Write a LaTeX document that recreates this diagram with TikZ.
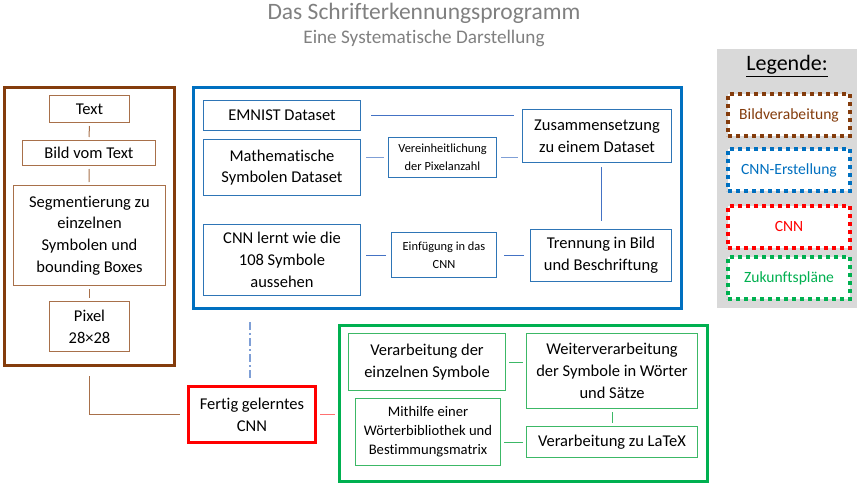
\documentclass[tikz,border=0pt]{standalone}
\usepackage{fontspec}
\setmainfont{Carlito}[Ligatures=NoCommon]
\usetikzlibrary{positioning}
\definecolor{braun}{HTML}{843C0C}
\definecolor{hellbraun}{HTML}{A8704A}
\definecolor{blau}{HTML}{0070C0}
\definecolor{hellblau}{HTML}{2E75B6}
\definecolor{linienblau}{HTML}{4472C4}
\definecolor{blassblau}{HTML}{7F9FD6}
\definecolor{rot}{HTML}{FF0000}
\definecolor{hellrot}{HTML}{FF7070}
\definecolor{gruen}{HTML}{00B050}
\definecolor{hellgruen}{HTML}{3CB866}
\definecolor{legendgrau}{HTML}{D9D9D9}
\definecolor{titelgrau}{HTML}{808080}
\tikzset{frame node/.style={draw, line width=3.2pt, inner sep=0pt},
  box node/.style={draw, line width=1pt, align=center, inner sep=0pt, font=\fontsize{16.5}{21.7}\selectfont},
  small node/.style={box node, font=\fontsize{12.4}{17.7}\selectfont},
  legend node/.style={draw, fill=white, line width=4pt, dash pattern=on 4pt off 4pt, minimum width=122pt, minimum height=42pt, font=\fontsize{15.6}{18}\selectfont},}

\begin{document}
\begin{tikzpicture}[x=1pt,y=-1pt]
    \useasboundingbox (0,0) rectangle (864,487);
    \node[text=titelgrau, font=\fontsize{23.5}{27}\selectfont] (titel) at (424,13) {Das Schrifterkennungsprogramm};
    \node[text=titelgrau, font=\fontsize{19.2}{22}\selectfont] (untertitel) at (424,38) {Eine Systematische Darstellung};

    % Bildverarbeitung
    \node[frame node, draw=braun, minimum width=170pt, minimum height=278pt] (a) at (89.5,226.5) {};
    \node[box node, draw=hellbraun, minimum width=80pt, minimum height=27pt] (1) at (89.5,109) {Text};
    \node[box node, draw=hellbraun, minimum width=133pt, minimum height=25pt] (2) at (89,153) {Bild vom Text};
    \node[box node, draw=hellbraun, minimum width=152pt, minimum height=100pt] (3) at (89.5,235.5) {Segmentierung zu\\einzelnen\\Symbolen und\\bounding Boxes};
    \node[box node, draw=hellbraun, minimum width=80pt, minimum height=50pt] (4) at (89.5,326.5) {Pixel\\28×28};

    % CNN-Erstellung
    \node[frame node, draw=blau, minimum width=488pt, minimum height=221pt] (b) at (437.5,198) {};
    \node[box node, draw=hellblau, minimum width=157pt, minimum height=30pt] (5) at (282,115.5) {EMNIST Dataset};
    \node[box node, draw=hellblau, minimum width=157pt, minimum height=56pt] (6) at (282,167.5) {Mathematische\\Symbolen Dataset};
    \node[box node, draw=hellblau, minimum width=157pt, minimum height=71pt] (7) at (282,260) {CNN lernt wie die\\108 Symbole\\aussehen};
    \node[small node, draw=hellblau, minimum width=108pt, minimum height=40pt] (8) at (442.5,157.5) {Vereinheitlichung\\der Pixelanzahl};
    \node[small node, draw=hellblau, minimum width=105pt, minimum height=45pt] (9) at (444,255) {Einfügung in das\\CNN};
    \node[box node, draw=hellblau, minimum width=149pt, minimum height=53pt] (10) at (597,136) {Zusammensetzung\\zu einem Dataset};
    \node[box node, draw=hellblau, minimum width=141pt, minimum height=52pt] (11) at (601,255.5) {Trennung in Bild\\und Beschriftung};

    % CNN
    \node[frame node, draw=rot, minimum width=127pt, minimum height=56pt, align=center, font=\fontsize{16.5}{21.7}\selectfont] (12) at (252,414.5) {Fertig gelerntes\\CNN};

    % Zukunftsplaene
    \node[frame node, draw=gruen, minimum width=368pt, minimum height=156pt] (c) at (523.5,403.5) {};
    \node[box node, draw=hellgruen, minimum width=157pt, minimum height=57pt] (13) at (427,362) {Verarbeitung der\\einzelnen Symbole};
    \node[box node, draw=hellgruen, minimum width=171pt, minimum height=75pt] (14) at (612,371) {Weiterverarbeitung\\der Symbole in Wörter\\und Sätze};
    \node[box node, draw=hellgruen, minimum width=145pt, minimum height=67pt, font=\fontsize{14.6}{19}\selectfont] (15) at (428,432) {Mithilfe einer\\Wörterbibliothek und\\Bestimmungsmatrix};
    \node[box node, draw=hellgruen, minimum width=171pt, minimum height=31pt] (16) at (612,442) {Verarbeitung zu LaTeX};

    % Legende
    \node[fill=legendgrau, minimum width=140pt, minimum height=259pt, inner sep=0pt] (leg) at (787,178.5) {};
    \node[font=\fontsize{22}{26}\selectfont] (legtitel) at (787,66) {\underline{Legende:}};
    \node[legend node, draw=braun, text=braun] (l1) at (789,115) {Bildverabeitung};
    \node[legend node, draw=blau, text=blau] (l2) at (789,170) {CNN-Erstellung};
    \node[legend node, draw=rot, text=rot] (l3) at (789,226.5) {CNN};
    \node[legend node, draw=gruen, text=gruen] (l4) at (789,278) {Zukunftspläne};

    \path[line width=1pt, shorten >=3pt, shorten <=3pt]
    (1) edge[hellbraun] (2)
    (2) edge[hellbraun] (3)
    (3) edge[hellbraun] (4)
    (5.east) edge[linienblau, shorten <=10pt, shorten >=8pt] (5.east -| 10.west)
    (6.east |- 8.west) edge[blassblau, shorten <=5pt, shorten >=4pt] (8.west)
    (8.east) edge[blassblau, shorten <=4pt, shorten >=4pt] (8.east -| 10.west)
    (11.north |- 10.south) edge[linienblau, shorten <=4pt, shorten >=8pt] (11.north)
    (11.west |- 9.east) edge[linienblau, shorten <=6pt, shorten >=7pt] (9.east)
    (9.west) edge[linienblau, shorten <=5pt, shorten >=5pt] (7.east |- 9.west)
    (12.east) edge[hellrot] (12.east -| c.west)
    (13.east) edge[hellgruen] (13.east -| 14.west)
    (14.south) edge[hellgruen] (16.north)
    (16.west) edge[hellgruen] (15.east |- 16.west);
    \draw[blassblau, line width=1.3pt, dash pattern=on 8pt off 3pt on 2pt off 3pt, shorten <=7pt, shorten >=11pt] ([xshift=-2pt]12.north) -- ([xshift=-2pt]12.north |- b.south);
    \draw[hellbraun, line width=1pt, shorten <=9pt, shorten >=7pt] (a.south) |- (12.west);
  \end{tikzpicture}
\end{document}
